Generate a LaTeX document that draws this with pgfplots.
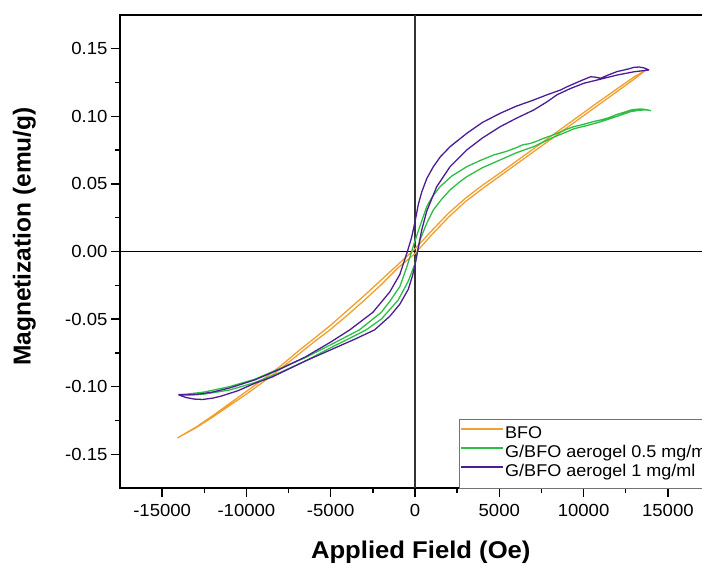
\documentclass[border=0pt]{standalone}
\usepackage{fontspec}
\setmainfont{Liberation Sans}[FakeStretch=1.06]
\newfontfamily\ylabfont{Liberation Sans}
\usepackage{pgfplots}
\pgfplotsset{compat=1.18}
\definecolor{cBFO}{HTML}{F0A030}
\definecolor{cGa}{HTML}{2DBE45}
\definecolor{cGb}{HTML}{4B1E96}

\begin{document}
\begin{tikzpicture}
\useasboundingbox (0,0) rectangle (702pt,563pt);
\begin{axis}[
  at={(120pt,75pt)}, anchor=south west,
  width=590pt, height=473pt, scale only axis,
  xmin=-17500, xmax=17500, ymin=-0.175, ymax=0.175,
  xtick={-15000,-10000,-5000,0,5000,10000,15000},
  ytick={-0.15,-0.10,-0.05,0,0.05,0.10,0.15},
  minor x tick num=1, minor y tick num=1,
  tick align=outside, xtick pos=left, ytick pos=left,
  major tick length=9pt, minor tick length=5pt,
  every tick/.style={black, line width=1.4pt},
  axis line style={line width=1.6pt},
  scaled ticks=false,
  /pgf/number format/assume math mode=true,
  xticklabel style={/pgf/number format/set thousands separator={}, yshift=-4pt},
  yticklabel style={/pgf/number format/fixed, /pgf/number format/fixed zerofill, /pgf/number format/precision=2},
  tick label style={font=\fontsize{17.5}{20}\selectfont},
  xlabel={Applied Field (Oe)}, ylabel={Magnetization (emu/g)},
  xlabel style={at={(axis description cs:0.5098,-0.1486)}, anchor=base, font=\fontsize{24.2}{28}\selectfont\bfseries},
  ylabel style={at={(axis description cs:-0.1514,0.5317)}, anchor=base, font=\ylabfont\fontsize{24.5}{28}\selectfont\bfseries},
  legend style={at={(0.5746,0)}, anchor=south west, draw=black!55,
    inner xsep=1pt, inner ysep=6pt, row sep=0.5pt, font=\fontsize{17}{20}\selectfont,
    nodes={inner sep=1pt, text height=12.5pt, text depth=4pt}},
  legend cell align=left,
  legend image code/.code={\draw[#1, line width=2pt] (0pt,5.5pt) -- (42pt,5.5pt);},
]
\addplot[black!80, line width=1.2pt, forget plot] coordinates {(0,-0.175) (0,0.175)};
\addplot[black, line width=1.2pt, forget plot] coordinates {(-17500,0) (17500,0)};

% BFO
\addplot[cBFO, line width=1.3pt] coordinates {
(13700,0.1343) (13000,0.1292) (12000,0.1205) (11000,0.1117) (10000,0.1027) (9000,0.0937)
(8000,0.0847) (7000,0.0757) (6000,0.0667) (5000,0.0577) (4000,0.0490) (3000,0.0395)
(2000,0.0285) (1000,0.0155) (0,0.0020) (-1000,-0.0095) (-2000,-0.0210) (-3000,-0.0325)
(-4000,-0.0435) (-5000,-0.0545) (-6000,-0.0645) (-7000,-0.0745) (-8000,-0.0850)
(-9000,-0.0945) (-10000,-0.1035) (-11000,-0.1125) (-12000,-0.1215) (-13000,-0.1300)
(-14100,-0.1380)
(-13000,-0.1305) (-12000,-0.1225) (-11000,-0.1140) (-10000,-0.1055) (-9000,-0.0965)
(-8000,-0.0870) (-7000,-0.0770) (-6000,-0.0670) (-5000,-0.0575) (-4000,-0.0470)
(-3000,-0.0360) (-2000,-0.0245) (-1000,-0.0120) (0,-0.0015) (1000,0.0125) (2000,0.0255)
(3000,0.0370) (4000,0.0465) (5000,0.0555) (6000,0.0645) (7000,0.0735) (8000,0.0825)
(9000,0.0915) (10000,0.1005) (11000,0.1095) (12000,0.1185) (13000,0.1275) (13700,0.1343)
};
\addlegendentry{BFO}

% G/BFO 0.5
\addplot[cGa, line width=1.3pt] coordinates {
(13990,0.1042) (13700,0.1050) (13400,0.1055) (13100,0.1052) (12800,0.1047) (12400,0.1030)
(12000,0.1015) (11500,0.0990) (11010,0.0973) (10600,0.0962) (10200,0.0948) (9800,0.0935)
(9420,0.0924) (9000,0.0905) (8500,0.0878) (8036,0.0855) (7640,0.0838) (7200,0.0815)
(6800,0.0798) (6400,0.0790) (6050,0.0770) (5400,0.0740) (4663,0.0714) (3900,0.0675)
(3077,0.0628) (2200,0.0560) (1488,0.0480) (1000,0.0400) (700,0.0333) (300,0.0190)
(0,0.0080) (-200,0.0000) (-500,-0.0120) (-900,-0.0260) (-1500,-0.0370) (-2000,-0.0450)
(-3300,-0.0580) (-5000,-0.0690) (-6500,-0.0785) (-8000,-0.0865) (-9500,-0.0945)
(-11000,-0.1000) (-12500,-0.1040) (-14000,-0.1062)
(-13200,-0.1062) (-12500,-0.1055) (-11000,-0.1025) (-9500,-0.0970) (-8000,-0.0895)
(-6500,-0.0810) (-5000,-0.0712) (-4000,-0.0650) (-2900,-0.0580) (-2000,-0.0500)
(-1000,-0.0360) (-400,-0.0220) (0,-0.0090) (150,0.0000) (300,0.0086) (700,0.0210)
(1090,0.0308) (1600,0.0390) (2083,0.0456) (2600,0.0510) (3077,0.0554) (4000,0.0620)
(5060,0.0678) (6000,0.0730) (7040,0.0776) (7640,0.0812) (8036,0.0835) (8500,0.0860)
(9000,0.0885) (9420,0.0908) (10200,0.0932) (11010,0.0960) (11800,0.0992) (12400,0.1018)
(12800,0.1035) (13300,0.1045) (13700,0.1048) (13990,0.1042)
};
\addlegendentry{G/BFO aerogel 0.5 mg/ml}

% G/BFO 1
\addplot[cGb, line width=1.3pt] coordinates {
(13890,0.1343) (13600,0.1358) (13300,0.1365) (12990,0.1363) (12700,0.1352) (12300,0.1340)
(12000,0.1332) (11500,0.1308) (11011,0.1282) (10700,0.1290) (10417,0.1293) (10000,0.1272)
(9500,0.1245) (9000,0.1218) (8630,0.1195) (7800,0.1158) (7040,0.1121) (6000,0.1075)
(5060,0.1023) (4000,0.0955) (3077,0.0875) (2083,0.0776) (1500,0.0700) (1090,0.0628)
(700,0.0540) (400,0.0440) (200,0.0350) (0,0.0220) (-200,0.0105) (-450,0.0000)
(-900,-0.0170) (-1500,-0.0300) (-2500,-0.0450) (-3870,-0.0580) (-5000,-0.0670)
(-6500,-0.0780) (-8000,-0.0870) (-9500,-0.0950) (-11000,-0.1010) (-12000,-0.1040)
(-12800,-0.1055) (-13500,-0.1060) (-14000,-0.1058)
(-14000,-0.1062) (-13600,-0.1080) (-13100,-0.1092) (-12600,-0.1095) (-12000,-0.1085)
(-11500,-0.1070) (-10500,-0.1030) (-9500,-0.0975) (-8500,-0.0930) (-7500,-0.0870)
(-6500,-0.0810) (-5500,-0.0755) (-4500,-0.0700) (-3500,-0.0645) (-2400,-0.0580)
(-1500,-0.0480) (-900,-0.0390) (-400,-0.0280) (-150,-0.0180) (0,-0.0100) (150,0.0000)
(400,0.0160) (700,0.0300) (1290,0.0480) (2083,0.0628) (3077,0.0752) (4000,0.0840)
(5060,0.0924) (6000,0.0985) (7040,0.1047) (7800,0.1105) (8430,0.1160) (9200,0.1205)
(10020,0.1245) (11000,0.1275) (12000,0.1306) (13000,0.1330) (13890,0.1343)
};
\addlegendentry{G/BFO aerogel 1 mg/ml}
\end{axis}
\end{tikzpicture}
\end{document}
